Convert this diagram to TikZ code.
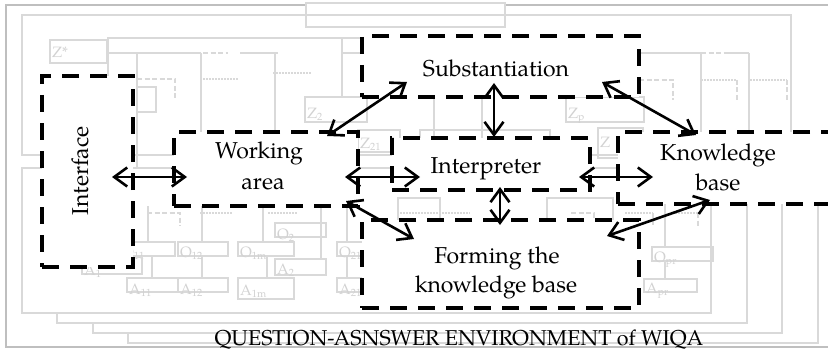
\documentclass[tikz,border=0pt]{standalone}
\usepackage{fontspec}
\setmainfont{texgyrepagella}[Extension=.otf,UprightFont=*-regular,BoldFont=*-bold,ItalicFont=*-italic,BoldItalicFont=*-bolditalic]
\usetikzlibrary{arrows.meta}
\newcommand\dfont{\fontsize{23}{29}\selectfont}
\newcommand\envfont{\fontsize{21.5}{25}\selectfont}
\newcommand\glfont{\fontsize{15}{17}\selectfont}
\begin{document}
\begin{tikzpicture}[x=1pt,y=-1pt,
  g/.style={draw=gray!30, line width=1.3pt},
  gbox/.style={draw=gray!30, line width=1.3pt, fill=white},
  gdash/.style={draw=gray!30, line width=2.4pt, dash pattern=on 5pt off 2.5pt},
  gdot/.style={draw=gray!30, line width=2pt, dash pattern=on 1.5pt off 1.5pt},
  glab/.style={text=gray!35, font=\glfont, inner sep=0pt, anchor=base west},
  box/.style={draw=black, line width=3.3pt, dash pattern=on 17pt off 11pt, fill=white, inner sep=0pt},
  txt/.style={font=\dfont, inner sep=0pt, anchor=base},
  arr/.style={line width=2.6pt, arrows={Straight Barb[length=13pt,width=19pt]-Straight Barb[length=13pt,width=19pt]}}
]
\useasboundingbox (0,0) rectangle (828,353);
\clip (0,0) rectangle (828,353);
\fill[white] (0,0) rectangle (828,353);
% outer frame and tab
\draw[line width=2.5pt, draw=gray!50] (6,5) rectangle (840,347);
\draw[gbox] (306,3) rectangle (505,27);
% upper frame
\draw[g] (22,15) rectangle (791,155);
% stacked lower frames
\draw[gbox] (128,198) rectangle (818,343);
\draw[gbox] (93,188) rectangle (782,333);
\draw[gbox] (57,178) rectangle (747,323);
\draw[gbox] (22,168) rectangle (711,313);
% upper inner structure
\draw[g] (107,38) -- (362,38);
\draw[g] (108,38) -- (108,76);
\draw[g] (108,53) -- (201,53);
\draw[gdash] (203,53) -- (228,53);
\draw[g] (240,53) -- (278,53);
\draw[g] (137,53) -- (137,168);
\draw[g] (201,53) -- (201,132);
\draw[g] (275,53) -- (275,132);
\draw[g] (342,38) -- (342,97);
\draw[g] (342,53) -- (362,53);
\draw[gdash] (137,79) -- (175,79) -- (175,100);
\draw[gdot] (200,79) -- (238,79);
\draw[gdot] (273,73) -- (312,73);
\draw[g] (137,87) rectangle (156,112);
\draw[g] (434,97) -- (434,138);
\draw[g] (482,97) -- (482,138);
\draw[g] (420,130) rectangle (550,150);
\draw[g] (639,53) -- (701,53);
\draw[gdash] (701,53) -- (727,53);
\draw[g] (727,53) -- (749,53);
\draw[g] (701,53) -- (701,132);
\draw[g] (749,53) -- (749,132);
\draw[gdash] (639,80) -- (673,80) -- (673,100);
\draw[gdot] (701,80) -- (737,80);
\draw[gdash] (737,80) -- (737,100);
\draw[gdot] (750,80) -- (787,80);
\draw[gdash] (787,80) -- (787,100);
\draw[g] (50,40) rectangle (107,63);
\node[glab] (lzs) at (52,58) {Z*};
\draw[g] (305,97) rectangle (367,122);
\node[glab] (lz2) at (307,118) {Z\textsubscript{2}};
\draw[g] (358,130) rectangle (400,152);
\node[glab] (lz21) at (360,148) {Z\textsubscript{21}};
\draw[g] (566,97) rectangle (644,122);
\node[glab] (lzp) at (568,118) {Z\textsubscript{p}};
\draw[g] (598,128) rectangle (643,158);
\node[glab] (lz) at (600,147) {Z};
% lower inner structure
\draw[gdash] (147,213) -- (180,213) -- (180,226);
\draw[gdot] (200,213) -- (233,213);
\draw[gdot] (268,213) -- (297,213);
\draw[g] (148,206) -- (148,242);
\draw[g] (202,206) -- (202,242);
\draw[g] (263,206) -- (263,242);
\draw[g] (321,206) -- (321,259);
\draw[g] (347,206) -- (347,242);
\draw[g] (152,256) -- (152,278);
\draw[g] (202,256) -- (202,278);
\draw[g] (267,256) -- (267,278);
\draw[g] (347,256) -- (347,278);
\draw[gdot] (400,213) -- (470,213);
\draw[g] (398,198) rectangle (440,222);
\draw[g] (547,198) rectangle (613,222);
\draw[gdash] (571,213) -- (594,213) -- (594,224);
\draw[gdot] (625,213) -- (653,213);
\draw[gdash] (653,213) -- (653,225);
\draw[gdot] (675,213) -- (698,213);
\draw[gdash] (698,213) -- (698,226);
\draw[g] (665,204) -- (665,247);
\draw[g] (665,261) -- (665,279);
\draw[g] (120,242) rectangle (175,256);
\node[glab] (lo11) at (122,257) {O\textsubscript{11}};
\draw[g] (178,242) rectangle (228,256);
\node[glab] (lo12) at (180,257) {O\textsubscript{12}};
\draw[g] (238,242) rectangle (294,256);
\node[glab] (lo1m) at (240,257) {O\textsubscript{1m}};
\draw[g] (275,223) rectangle (326,237);
\node[glab] (lo2) at (277,239) {O\textsubscript{2}};
\draw[g] (82,257) rectangle (142,274);
\node[glab] (la1) at (84,275) {A\textsubscript{1}};
\draw[g] (275,259) rectangle (326,275);
\node[glab] (la2) at (277,274) {A\textsubscript{2}};
\draw[g] (127,278) rectangle (178,292);
\node[glab] (la11) at (129,294) {A\textsubscript{11}};
\draw[g] (178,278) rectangle (228,292);
\node[glab] (la12) at (180,294) {A\textsubscript{12}};
\draw[g] (238,278) rectangle (294,299);
\node[glab] (la1m) at (240,295) {A\textsubscript{1m}};
\draw[g] (337,242) rectangle (370,256);
\node[glab] (lo21) at (339,257) {O\textsubscript{21}};
\draw[g] (337,278) rectangle (370,292);
\node[glab] (la21) at (339,294) {A\textsubscript{21}};
\draw[g] (652,247) rectangle (713,261);
\node[glab] (lopr) at (654,262) {O\textsubscript{pr}};
\draw[g] (644,279) rectangle (697,292);
\node[glab] (lapr) at (646,293) {A\textsubscript{pr}};
% main boxes
\node[box, minimum width=91pt, minimum height=191pt] (iface) at (87.5,171.5) {};
\node[box, minimum width=184pt, minimum height=74pt] (work) at (266,169) {};
\node[box, minimum width=277pt, minimum height=61pt] (subst) at (500.5,66.5) {};
\node[box, minimum width=198pt, minimum height=52pt] (interp) at (491,164) {};
\node[box, minimum width=277pt, minimum height=88pt] (form) at (500.5,264) {};
\node[box, minimum width=242pt, minimum height=72pt] (kb) at (739,168) {};
% texts
\node[txt, rotate=90] (tiface) at (88,171) {Interface};
\node[txt] (twork1) at (259,158) {Working};
\node[txt] (twork2) at (263,189) {area};
\node[txt] (tsubst) at (496,77) {Substantiation};
\node[txt] (tinterp) at (486,173) {Interpreter};
\node[txt] (tkb1) at (718,160) {Knowledge};
\node[txt] (tkb2) at (718,190) {base};
\node[txt] (tform1) at (497,263) {Forming the};
\node[txt] (tform2) at (496,292) {knowledge base};
\node[txt, font=\envfont] (tenv) at (459,345) {QUESTION-ASNSWER ENVIRONMENT of WIQA};
% arrow end points
\coordinate (a1a) at (112,177); \coordinate (a1b) at (187,177);
\coordinate (a2a) at (327,136); \coordinate (a2b) at (407,82);
\coordinate (a3a) at (345,177); \coordinate (a3b) at (420,177);
\coordinate (a4a) at (494,83);  \coordinate (a4b) at (494,137);
\coordinate (a5a) at (602,82);  \coordinate (a5b) at (696,135);
\coordinate (a6a) at (579,177); \coordinate (a6b) at (653,177);
\coordinate (a7a) at (500,187); \coordinate (a7b) at (500,225);
\coordinate (a8a) at (346,201); \coordinate (a8b) at (414,239);
\coordinate (a9a) at (607,236); \coordinate (a9b) at (710,200);
\draw[arr] (a1a) -- (a1b);
\draw[arr] (a2a) -- (a2b);
\draw[arr] (a3a) -- (a3b);
\draw[arr] (a4a) -- (a4b);
\draw[arr] (a5a) -- (a5b);
\draw[arr] (a6a) -- (a6b);
\draw[arr] (a7a) -- (a7b);
\draw[arr] (a8a) -- (a8b);
\draw[arr] (a9a) -- (a9b);
\end{tikzpicture}
\end{document}
